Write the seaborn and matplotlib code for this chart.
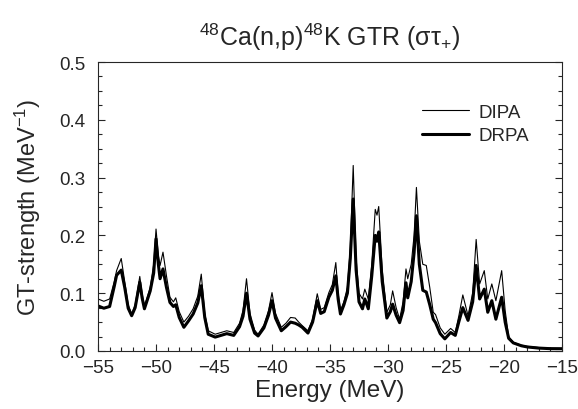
import numpy as np
import pandas as pd
import seaborn as sns
from matplotlib import pyplot as plt
from matplotlib.ticker import MultipleLocator

# values
energy = [-55.0, -54.5, -54.0, -53.6, -53.4, -53.0, -52.7, -52.4, -52.1, -51.8,
          -51.4, -51.2, -51.0, -50.5, -50.2, -50.0, -49.8, -49.65, -49.4, -49.1,
          -48.8, -48.5, -48.3, -48.0, -47.6, -47.2, -46.8, -46.4, -46.1, -45.8,
          -45.5, -44.9, -44.4, -43.9, -43.3, -42.8, -42.5, -42.2, -41.9, -41.5,
          -41.2, -40.7, -40.3, -40.0, -39.7, -39.2, -38.8, -38.4, -38.0, -37.7,
          -37.4, -36.9, -36.5, -36.1, -35.8, -35.5, -35.1, -34.8, -34.5, -34.3,
          -34.1, -33.8, -33.5, -33.25, -33.0, -32.75, -32.5, -32.2, -32.0, -31.7,
          -31.4, -31.1, -30.95, -30.8, -30.5, -30.1, -29.8, -29.6, -29.3, -29.0,
          -28.7, -28.45, -28.3, -28.0, -27.75, -27.55, -27.3, -27.0, -26.7, -26.4,
          -26.1, -25.9, -25.5, -25.1, -24.6, -24.2, -23.9, -23.55, -23.1, -22.7,
          -22.4, -22.1, -21.7, -21.4, -21.05, -20.7, -20.2, -19.9, -19.6, -19.2,
          -18.5, -18.0, -17.0, -16.0, -15.0]
dipa = [0.090, 0.086, 0.090, 0.120, 0.139, 0.160, 0.120, 0.080, 0.064, 0.080,
        0.129, 0.100, 0.077, 0.110, 0.150, 0.211, 0.165, 0.148, 0.171, 0.130,
        0.093, 0.085, 0.092, 0.068, 0.050, 0.060, 0.073, 0.095, 0.133, 0.065,
        0.035, 0.029, 0.032, 0.035, 0.032, 0.048, 0.070, 0.125, 0.065, 0.036,
        0.029, 0.045, 0.070, 0.101, 0.065, 0.041, 0.048, 0.058, 0.057, 0.050,
        0.044, 0.035, 0.055, 0.099, 0.072, 0.075, 0.101, 0.115, 0.153, 0.100,
        0.070, 0.085, 0.110, 0.180, 0.321, 0.160, 0.100, 0.090, 0.107, 0.090,
        0.150, 0.245, 0.235, 0.250, 0.140, 0.067, 0.080, 0.104, 0.075, 0.055,
        0.085, 0.142, 0.125, 0.150, 0.200, 0.283, 0.190, 0.150, 0.148, 0.110,
        0.067, 0.063, 0.040, 0.029, 0.039, 0.032, 0.060, 0.097, 0.061, 0.100,
        0.193, 0.116, 0.139, 0.090, 0.116, 0.087, 0.139, 0.070, 0.025, 0.015,
        0.010, 0.008, 0.006, 0.005, 0.004]
drpa = [0.078, 0.074, 0.077, 0.112, 0.131, 0.140, 0.110, 0.074, 0.061, 0.075,
        0.119, 0.092, 0.073, 0.104, 0.135, 0.194, 0.150, 0.125, 0.142, 0.110,
        0.084, 0.077, 0.080, 0.058, 0.041, 0.052, 0.064, 0.083, 0.113, 0.058,
        0.029, 0.024, 0.027, 0.030, 0.027, 0.042, 0.060, 0.100, 0.055, 0.031,
        0.026, 0.040, 0.062, 0.087, 0.057, 0.035, 0.042, 0.050, 0.048, 0.045,
        0.041, 0.031, 0.050, 0.087, 0.065, 0.068, 0.093, 0.105, 0.130, 0.090,
        0.064, 0.080, 0.100, 0.160, 0.263, 0.140, 0.085, 0.073, 0.090, 0.073,
        0.130, 0.200, 0.190, 0.206, 0.120, 0.057, 0.068, 0.081, 0.062, 0.049,
        0.070, 0.118, 0.092, 0.120, 0.170, 0.234, 0.150, 0.105, 0.102, 0.080,
        0.055, 0.049, 0.030, 0.021, 0.032, 0.027, 0.050, 0.075, 0.053, 0.085,
        0.148, 0.090, 0.107, 0.067, 0.087, 0.055, 0.093, 0.050, 0.022, 0.014,
        0.009, 0.007, 0.005, 0.004, 0.004]

sns.set_style("ticks")
plt.rcParams['font.family'] = ['Liberation Sans', 'DejaVu Sans']
plt.rcParams['mathtext.fontset'] = 'custom'
plt.rcParams['mathtext.rm'] = 'Liberation Sans'
plt.rcParams['mathtext.it'] = 'Liberation Sans:italic'

df = pd.DataFrame({'Energy': energy, 'DIPA': dipa, 'DRPA': drpa})

fig = plt.figure(figsize=(5.78, 4.10), dpi=100)
ax = fig.add_axes([0.1696, 0.1415, 0.8027, 0.7048])

sns.lineplot(x='Energy', y='DIPA', data=df, ax=ax, color='black', lw=0.8,
             label='DIPA', sort=False)
sns.lineplot(x='Energy', y='DRPA', data=df, ax=ax, color='black', lw=2.2,
             label='DRPA', sort=False)

ax.set_xlim(-55, -15)
ax.set_ylim(0, 0.5)
ax.xaxis.set_major_locator(MultipleLocator(5))
ax.xaxis.set_minor_locator(MultipleLocator(1))
ax.yaxis.set_major_locator(MultipleLocator(0.1))
ax.yaxis.set_minor_locator(MultipleLocator(0.025))
ax.yaxis.set_major_formatter(plt.FormatStrFormatter('%.1f'))
ax.tick_params(which='both', direction='in', right=True, top=False,
               labelsize=13.5, width=0.8)
ax.tick_params(axis='x', pad=6)
ax.tick_params(axis='y', pad=9)
ax.tick_params(which='major', length=5)
ax.tick_params(which='minor', length=3)
for s in ax.spines.values():
    s.set_linewidth(0.8)

ax.set_xlabel('Energy (MeV)', fontsize=17.5, labelpad=2)
ax.set_ylabel('GT-strength (MeV$^{-1}$)', fontsize=17, labelpad=12)
ax.set_title('$^{48}$Ca(n,p)$^{48}$K GTR (στ$_{+}$)', fontsize=18, pad=12)

ax.legend(loc='upper right', bbox_to_anchor=(0.965, 0.915), frameon=False,
          fontsize=13.5, handlelength=2.5, handletextpad=0.5, labelspacing=0.35)

fig.savefig('out.png', dpi=100)
